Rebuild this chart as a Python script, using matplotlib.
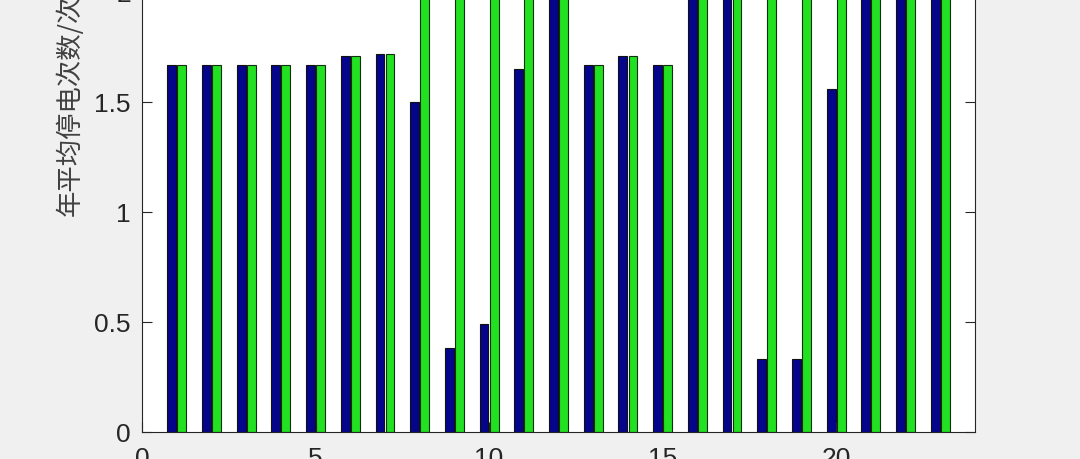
import numpy as np
import matplotlib
matplotlib.use('Agg')
import matplotlib.pyplot as plt

plt.rcParams['font.family'] = ['Liberation Sans', 'DejaVu Sans']

# data (values above 2 fall outside the visible crop, estimated)
feeders = np.arange(1, 24)
before = [1.67, 1.67, 1.67, 1.67, 1.67, 1.71, 1.72, 1.50, 0.38, 0.49, 1.65, 2.45,
          1.67, 1.71, 1.67, 2.40, 2.50, 0.33, 0.33, 1.56, 2.40, 2.45, 2.50]
after = [1.67, 1.67, 1.67, 1.67, 1.67, 1.71, 1.72, 2.60, 2.70, 2.60, 2.55, 2.50,
         1.67, 1.71, 1.67, 2.45, 2.55, 2.60, 2.70, 2.60, 2.50, 2.50, 2.55]
ylabel = '年平均停电次数/次'
xticks = [0, 5, 10, 15, 20]
yticks = [0, 0.5, 1, 1.5, 2, 2.5, 3]

W, H = 1080, 459
fig = plt.figure(figsize=(W/100, H/100), dpi=100, facecolor='#f0f0f0')

# axes run past the top of the cropped picture
ymax = 3.0
px_per_unit = 220.0
bottom_px = 432
top_px = bottom_px - ymax*px_per_unit
ax = fig.add_axes([142/W, 1 - bottom_px/H, (975-142)/W, (bottom_px - top_px)/H])
ax.set_facecolor('white')

w = 0.255
ax.bar(feeders - 0.145, before, width=w, color='#05058c', edgecolor='#101010', linewidth=0.8)
ax.bar(feeders + 0.145, after, width=w, color='#22e022', edgecolor='#103010', linewidth=0.8)

ax.set_xlim(0, 24)
ax.set_ylim(0, ymax)
ax.set_xticks(xticks)
ax.set_yticks(yticks)
ax.set_yticklabels(['0', '0.5', '1', '1.5', '2', '2.5', '3'])
ax.tick_params(direction='in', length=7, width=0.8, colors='#262626',
               labelsize=19, top=True, right=True)
ax.tick_params(axis='y', pad=8)
ax.tick_params(axis='x', pad=11)
for s in ax.spines.values():
    s.set_color('#262626')
    s.set_linewidth(0.8)

fig.text(70/W, 1 - 216/H, ylabel, rotation=90, ha='center', va='bottom',
         fontsize=19, color='#404040', family=['Noto Sans CJK SC', 'DejaVu Sans'])

fig.savefig('out.png', dpi=100, facecolor=fig.get_facecolor())
